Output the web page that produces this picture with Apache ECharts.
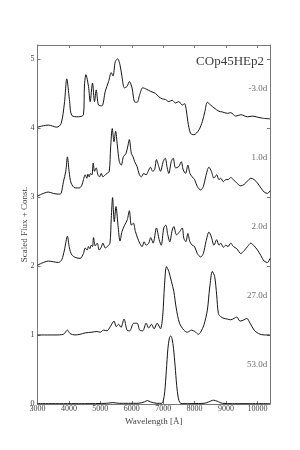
<!DOCTYPE html>
<html>
<head>
<meta charset="utf-8">
<script src="https://cdn.jsdelivr.net/npm/echarts@6/dist/echarts.min.js"></script>
<style>html,body{margin:0;padding:0;background:#fff}#c{width:300px;height:450px}</style>
</head>
<body>
<div id="c"></div>
<script>
// Scaled flux + constant: [wavelength (Å), flux]
var spec_m3 = [[3000,4.01],[3345,4.04],[3613,4.01],[3750,4.06],[3857,4.36],[3932,4.71],[4016,4.41],[4092,4.18],[4304,4.16],[4463,4.19],[4495,4.62],[4540,4.77],[4623,4.60],[4677,4.38],[4751,4.65],[4815,4.38],[4869,4.55],[4943,4.33],[5051,4.32],[5157,4.53],[5262,4.67],[5348,4.80],[5403,4.75],[5476,4.96],[5550,5.00],[5626,4.91],[5690,4.74],[5764,4.58],[5850,4.60],[5923,4.67],[6009,4.58],[6083,4.38],[6169,4.37],[6252,4.48],[6348,4.58],[6466,4.56],[6594,4.53],[6754,4.50],[6860,4.45],[6968,4.42],[7073,4.41],[7179,4.38],[7287,4.40],[7393,4.36],[7498,4.38],[7607,4.33],[7681,4.35],[7735,4.26],[7786,4.09],[7872,3.92],[7978,3.90],[8137,3.97],[8246,4.09],[8329,4.24],[8406,4.37],[8511,4.33],[8617,4.29],[8776,4.24],[8885,4.23],[9045,4.21],[9150,4.22],[9310,4.17],[9470,4.19],[9684,4.16],[9843,4.17],[10003,4.155],[10163,4.14],[10400,4.13]];
var spec_p1 = [[3000,3.01],[3134,3.04],[3345,3.07],[3505,3.05],[3665,3.04],[3750,3.05],[3825,3.22],[3900,3.37],[3952,3.58],[4006,3.37],[4070,3.20],[4198,3.13],[4335,3.13],[4412,3.17],[4463,3.25],[4518,3.32],[4572,3.27],[4604,3.33],[4645,3.29],[4687,3.34],[4732,3.32],[4773,3.49],[4815,3.37],[4869,3.42],[4923,3.32],[4975,3.29],[5029,3.34],[5083,3.29],[5157,3.32],[5211,3.34],[5284,3.37],[5327,3.71],[5380,3.99],[5435,3.80],[5486,3.95],[5540,3.75],[5604,3.51],[5668,3.46],[5732,3.58],[5818,3.63],[5882,3.75],[5923,3.83],[5987,3.63],[6042,3.58],[6093,3.51],[6169,3.44],[6243,3.32],[6307,3.29],[6380,3.34],[6457,3.32],[6521,3.37],[6594,3.43],[6668,3.37],[6730,3.40],[6786,3.54],[6860,3.44],[6914,3.37],[7000,3.51],[7064,3.56],[7128,3.42],[7179,3.34],[7256,3.51],[7319,3.56],[7393,3.42],[7498,3.44],[7575,3.51],[7639,3.39],[7713,3.34],[7786,3.46],[7850,3.34],[7926,3.29],[8000,3.25],[8086,3.15],[8192,3.10],[8278,3.15],[8351,3.29],[8457,3.43],[8534,3.37],[8617,3.27],[8703,3.32],[8776,3.25],[8831,3.27],[8917,3.22],[8990,3.25],[9064,3.25],[9150,3.28],[9236,3.25],[9342,3.20],[9470,3.16],[9575,3.18],[9684,3.23],[9789,3.27],[9895,3.25],[10003,3.20],[10109,3.13],[10214,3.07],[10323,3.05],[10400,3.09]];
var spec_p2 = [[3000,2.01],[3134,2.04],[3345,2.07],[3505,2.06],[3665,2.05],[3772,2.09],[3857,2.23],[3952,2.43],[4016,2.26],[4092,2.16],[4220,2.12],[4357,2.11],[4463,2.18],[4518,2.26],[4581,2.23],[4623,2.28],[4667,2.25],[4709,2.30],[4751,2.28],[4783,2.41],[4837,2.29],[4901,2.33],[4965,2.23],[5029,2.27],[5083,2.33],[5157,2.26],[5243,2.29],[5307,2.33],[5348,2.69],[5390,2.99],[5444,2.64],[5498,2.86],[5562,2.59],[5626,2.36],[5690,2.50],[5773,2.59],[5859,2.67],[5923,2.80],[5987,2.59],[6051,2.62],[6115,2.50],[6189,2.40],[6252,2.33],[6330,2.28],[6393,2.35],[6457,2.30],[6540,2.33],[6604,2.41],[6680,2.33],[6786,2.55],[6872,2.38],[6936,2.30],[7019,2.55],[7083,2.59],[7147,2.45],[7211,2.35],[7287,2.52],[7339,2.57],[7425,2.45],[7530,2.50],[7607,2.55],[7658,2.40],[7722,2.35],[7786,2.47],[7850,2.35],[7926,2.30],[8000,2.28],[8086,2.18],[8192,2.13],[8278,2.18],[8361,2.35],[8457,2.49],[8534,2.42],[8617,2.30],[8703,2.38],[8776,2.30],[8831,2.33],[8917,2.27],[8990,2.30],[9064,2.28],[9150,2.33],[9236,2.28],[9342,2.25],[9470,2.18],[9575,2.22],[9684,2.28],[9789,2.33],[9895,2.29],[10003,2.23],[10109,2.15],[10214,2.07],[10323,2.05],[10400,2.11]];
var spec_p27 = [[3000,1.00],[3560,1.00],[3825,1.01],[3952,1.07],[4038,1.02],[4198,1.00],[4357,1.01],[4518,1.03],[4732,1.04],[4891,1.05],[4997,1.04],[5102,1.07],[5211,1.06],[5316,1.12],[5435,1.20],[5508,1.12],[5582,1.155],[5657,1.11],[5754,1.23],[5850,1.07],[5934,1.06],[6061,1.17],[6169,1.17],[6252,1.07],[6348,1.06],[6457,1.17],[6540,1.10],[6626,1.155],[6712,1.09],[6808,1.17],[6914,1.09],[6987,1.29],[7042,1.72],[7105,1.99],[7179,1.92],[7265,1.77],[7339,1.63],[7415,1.39],[7521,1.17],[7658,1.07],[7767,1.04],[7904,1.07],[8009,1.05],[8118,1.01],[8192,1.04],[8297,1.145],[8406,1.36],[8479,1.68],[8565,1.92],[8639,1.845],[8703,1.58],[8757,1.31],[8831,1.265],[8936,1.24],[9045,1.23],[9150,1.22],[9256,1.24],[9342,1.26],[9448,1.20],[9575,1.22],[9661,1.24],[9767,1.17],[9895,1.07],[10035,1.02],[10214,1.00],[10400,1.00]];
var spec_p53 = [[3000,0.005],[4500,0.005],[5200,0.01],[5400,0.02],[5600,0.01],[6200,0.01],[6400,0.03],[6500,0.05],[6600,0.03],[6800,0.01],[6950,0.01],[7000,0.04],[7050,0.18],[7100,0.48],[7150,0.80],[7200,0.96],[7240,0.985],[7280,0.95],[7330,0.80],[7380,0.55],[7430,0.27],[7480,0.09],[7530,0.02],[7600,0.005],[8300,0.01],[8450,0.03],[8600,0.055],[8720,0.04],[8880,0.01],[9200,0.005],[10400,0.005]];

var phases = ['-3.0d', '1.0d', '2.0d', '27.0d', '53.0d'];
var offsets = [4, 3, 2, 1, 0];
var spectra = [spec_m3, spec_p1, spec_p2, spec_p27, spec_p53];
var xTicks = [3000, 4000, 5000, 6000, 7000, 8000, 9000, 10000];
var yTicks = [0, 1, 2, 3, 4, 5];
var modelName = 'COp45HEp2';

var serif = '"Liberation Serif", "DejaVu Serif", serif';
var frame = '#777';
var txt = '#444';

var chart = echarts.init(document.getElementById('c'), null, {renderer: 'canvas'});

var series = spectra.map(function (s) {
  return {
    type: 'line', data: s, showSymbol: false, smooth: 0.3, silent: true,
    lineStyle: {color: '#151515', width: 1.0}, z: 3
  };
});
series.push({
  type: 'scatter', symbolSize: 1, silent: true,
  itemStyle: {color: 'rgba(0,0,0,0)'},
  data: phases.map(function (p, i) { return {value: [10330, offsets[i] + 0.57], name: p}; }),
  label: {show: true, position: 'left', distance: 0, formatter: '{b}',
          fontFamily: serif, fontSize: 9, color: txt}
});

var axCommon = {
  axisLine: {show: true, onZero: false, lineStyle: {color: frame, width: 1}},
  axisTick: {show: true, inside: true, length: 3, lineStyle: {color: frame}},
  splitLine: {show: false}
};

chart.setOption({
  animation: false,
  title: {text: modelName, right: 31, top: 50,
          textStyle: {fontFamily: serif, fontSize: 13, fontWeight: 'normal', color: '#3a3a3a'}},
  grid: {left: 37.5, right: 30, top: 45, bottom: 46},
  xAxis: [
    Object.assign({type: 'value', min: 3000, max: 10400, interval: 1000, position: 'bottom',
      name: 'Wavelength [Å]', nameLocation: 'middle', nameGap: 13, nameMoveOverlap: false,
      nameTextStyle: {fontFamily: serif, fontSize: 9, color: txt},
      axisLabel: {fontFamily: serif, fontSize: 8, color: txt, margin: 1,
        formatter: function (v) { return xTicks.indexOf(v) >= 0 ? String(v) : ''; }}}, axCommon),
    Object.assign({type: 'value', min: 3000, max: 10400, interval: 1000, position: 'top',
      axisLabel: {show: false}}, axCommon)
  ],
  yAxis: [
    Object.assign({type: 'value', min: 0, max: 5.2, interval: 1, position: 'left',
      name: 'Scaled Flux + Const.', nameLocation: 'middle', nameGap: 8, nameMoveOverlap: false,
      nameTextStyle: {fontFamily: serif, fontSize: 9, color: txt},
      axisLabel: {fontFamily: serif, fontSize: 8, color: txt, margin: 3,
        formatter: function (v) { return yTicks.indexOf(v) >= 0 ? String(v) : ''; }}}, axCommon),
    Object.assign({type: 'value', min: 0, max: 5.2, interval: 1, position: 'right',
      axisLabel: {show: false}}, axCommon)
  ],
  series: series
});
</script>
</body>
</html>
